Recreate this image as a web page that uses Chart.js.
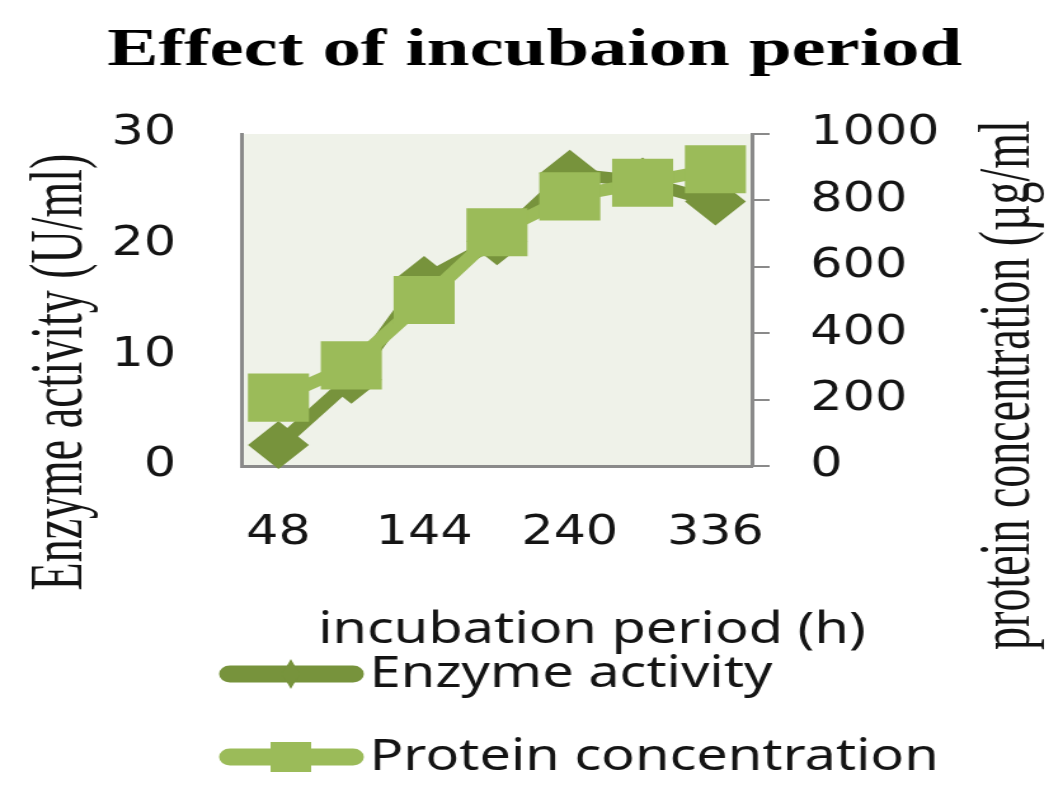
<!DOCTYPE html>
<html>
<head>
<meta charset="utf-8">
<title>Effect of incubaion period</title>
<script src="https://cdn.jsdelivr.net/npm/chart.js@4/dist/chart.umd.min.js"></script>
<style>
  html, body { margin: 0; padding: 0; background: #fff; overflow: hidden; }
  /* the original picture is stretched sideways: draw narrow, then widen */
  #wrap { width: 838px; height: 808px; transform: scaleX(1.27); transform-origin: 0 0; }
</style>
</head>
<body>
<div id="wrap"><canvas id="incubationChart"></canvas></div>
<script>
// ---- Data ----
const hours = ['48', '96', '144', '192', '240', '288', '336'];
const enzymeActivity = [1.9, 7.8, 16.8, 20.3, 26.4, 25.7, 23.9];   // U/ml
const proteinConc = [206, 303, 500, 704, 812, 853, 894];          // µg/ml
const activityTicks = [0, 10, 20, 30];
const proteinTicks = [0, 200, 400, 600, 800, 1000];

// ---- Styles ----
const ENZYME_COLOR = '#77933C';
const PROTEIN_COLOR = '#9BBB59';
const PLOT_BG = '#EFF2E9';
const AXIS_COLOR = '#8A8A8A';
const TEXT_COLOR = '#141414';
const SANS = 'DejaVu Sans';
const LABEL_SANS = 'Noto Sans';
const SERIF = 'Liberation Serif';

// plot background
const plotBackground = {
  id: 'plotBackground',
  beforeDraw(chart) {
    const { ctx, chartArea: a } = chart;
    ctx.save();
    ctx.fillStyle = PLOT_BG;
    ctx.fillRect(a.left, a.top, a.right - a.left, a.bottom - a.top);
    ctx.restore();
  },
};

// serif text in the original is even wider than the rest, hence the extra scale
function drawText(ctx, text, x, y, angle, widen) {
  ctx.save();
  ctx.translate(x, y);
  ctx.rotate(angle);
  if (angle) ctx.scale(1, widen);
  else ctx.scale(widen, 1);
  ctx.fillText(text, 0, 0);
  ctx.restore();
}

// title, axis titles (both y titles read bottom-to-top) and a line+marker legend
const titlesAndLegend = {
  id: 'titlesAndLegend',
  afterDraw(chart) {
    const ctx = chart.ctx;
    ctx.save();
    ctx.fillStyle = '#000';
    ctx.textBaseline = 'middle';
    ctx.textAlign = 'center';

    ctx.font = `bold 53px "${SERIF}"`;
    drawText(ctx, 'Effect of incubaion period', 421, 51, 0, 1.14);

    ctx.fillStyle = TEXT_COLOR;
    ctx.font = `46px "${SERIF}"`;
    drawText(ctx, 'Enzyme activity (U/ml)', 49, 372, -Math.PI / 2, 1.28);
    drawText(ctx, 'protein concentration (µg/ml', 795, 385, -Math.PI / 2, 1.25);

    ctx.font = `44px "${LABEL_SANS}"`;
    drawText(ctx, 'incubation period (h)', 466, 630, 0, 1);

    const rows = [674, 757];
    chart.data.datasets.forEach((ds, i) => {
      const y = rows[i];
      ctx.strokeStyle = ds.borderColor;
      ctx.lineWidth = 17;
      ctx.lineCap = 'round';
      ctx.beginPath();
      ctx.moveTo(181, y);
      ctx.lineTo(278, y);
      ctx.stroke();

      ctx.fillStyle = ds.backgroundColor;
      ctx.beginPath();
      if (ds.pointStyle === 'rectRot') {
        ctx.moveTo(229, y - 15);
        ctx.lineTo(236, y);
        ctx.lineTo(229, y + 15);
        ctx.lineTo(222, y);
        ctx.closePath();
      } else {
        ctx.rect(229 - 16, y - 15, 32, 30);
      }
      ctx.fill();

      ctx.fillStyle = TEXT_COLOR;
      ctx.textAlign = 'left';
      ctx.font = `44px "${LABEL_SANS}"`;
      ctx.fillText(ds.label, 291, y);
    });
    ctx.restore();
  },
};

const tickFont = { family: SANS, size: 40 };

new Chart(document.getElementById('incubationChart').getContext('2d'), {
  type: 'line',
  data: {
    labels: hours,
    datasets: [
      {
        label: 'Enzyme activity',
        data: enzymeActivity,
        yAxisID: 'y',
        borderColor: ENZYME_COLOR,
        backgroundColor: ENZYME_COLOR,
        borderWidth: 12,
        pointStyle: 'rectRot',
        pointRadius: 24,
        pointHoverRadius: 24,
        pointBorderWidth: 0,
        order: 1,
        clip: false,
      },
      {
        label: 'Protein concentration',
        data: proteinConc,
        yAxisID: 'y1',
        borderColor: PROTEIN_COLOR,
        backgroundColor: PROTEIN_COLOR,
        borderWidth: 12,
        pointStyle: 'rect',
        pointRadius: 34,
        pointHoverRadius: 34,
        pointBorderWidth: 0,
        order: 0,
        clip: false,
      },
    ],
  },
  options: {
    responsive: true,
    maintainAspectRatio: false,
    animation: false,
    events: [],
    layout: { padding: { top: 134 } },
    plugins: {
      legend: { display: false },
      tooltip: { enabled: false },
      title: { display: false },
    },
    scales: {
      x: {
        offset: true,
        grid: { display: false },
        border: { display: true, color: AXIS_COLOR, width: 3 },
        ticks: {
          autoSkip: false,
          maxRotation: 0,
          padding: 36,
          color: TEXT_COLOR,
          font: tickFont,
          callback: (value, index) => (index % 2 === 0 ? hours[index] : ''),
        },
        afterFit: (scale) => { scale.height = 342; },
      },
      y: {
        position: 'left',
        min: 0,
        max: 30,
        grid: { display: false },
        border: { display: true, color: AXIS_COLOR, width: 3 },
        ticks: { padding: 44, color: TEXT_COLOR, font: tickFont, callback: (v) => String(v) },
        afterBuildTicks: (scale) => { scale.ticks = activityTicks.map((value) => ({ value })); },
        afterFit: (scale) => { scale.width = 190.6; },
      },
      y1: {
        position: 'right',
        min: 0,
        max: 1000,
        grid: { drawOnChartArea: false, drawTicks: true, tickLength: 14, color: AXIS_COLOR, lineWidth: 2 },
        border: { display: true, color: AXIS_COLOR, width: 3 },
        ticks: { padding: 32, color: TEXT_COLOR, font: tickFont, callback: (v) => String(v) },
        afterBuildTicks: (scale) => { scale.ticks = proteinTicks.map((value) => ({ value })); },
        afterFit: (scale) => { scale.width = 246; },
      },
    },
  },
  plugins: [plotBackground, titlesAndLegend],
});
</script>
</body>
</html>
